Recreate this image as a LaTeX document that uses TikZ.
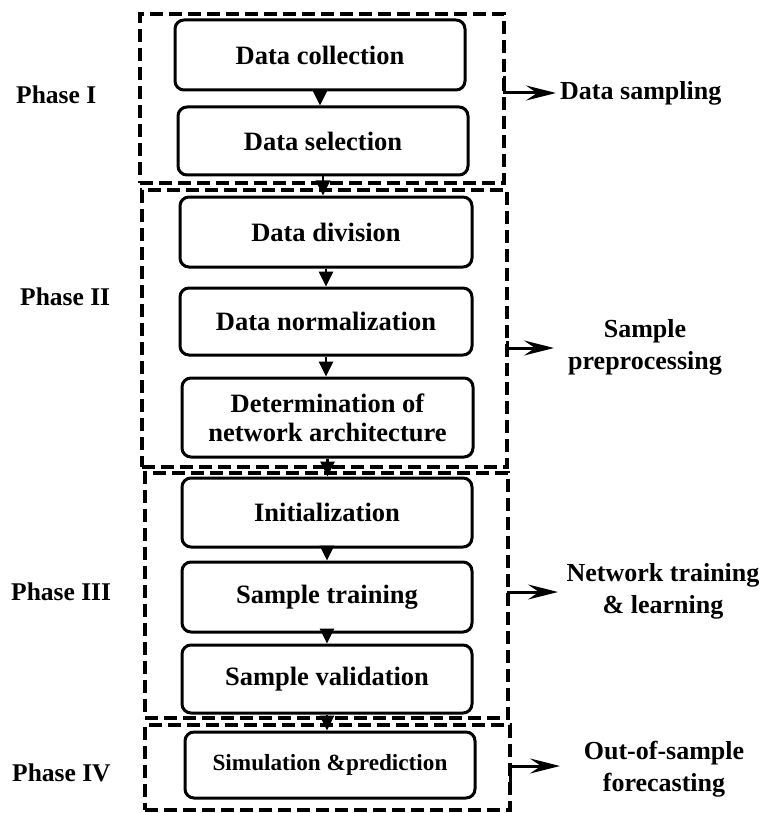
\documentclass[tikz,border=0pt]{standalone}
\usepackage{fontspec}
\setmainfont{Liberation Serif}
\usetikzlibrary{arrows.meta}

\tikzset{
  stepbox/.style={draw, line width=3pt, rounded corners=9pt, inner sep=0pt,
    minimum width=290pt, align=center, font=\fontsize{26.5}{29}\selectfont\bfseries},
  phasebox/.style={draw, dashed, dash pattern=on 13pt off 6pt, line width=3.2pt,
    inner sep=0pt},
  phaselabel/.style={anchor=west, inner sep=0pt, font=\fontsize{25.5}{28}\selectfont\bfseries},
  outlabel/.style={align=center, inner sep=0pt, font=\fontsize{26}{32}\selectfont\bfseries},
  flow/.style={line width=2.8pt, -{Triangle[width=14pt,length=15pt]}},
  outflow/.style={line width=3pt, -{Stealth[length=30pt,width=15pt,inset=11pt]}}
}

\begin{document}
\begin{tikzpicture}[x=1pt, y=-1pt]
  \useasboundingbox (0,0) rectangle (767,813);

  % dashed phase frames
  \node[phasebox, minimum width=364pt, minimum height=169pt] (pI)   at (322,98.5)  {};
  \node[phasebox, minimum width=365pt, minimum height=277pt] (pII)  at (324.5,328.5) {};
  \node[phasebox, minimum width=363pt, minimum height=245pt] (pIII) at (326.5,595.5) {};
  \node[phasebox, minimum width=365pt, minimum height=85pt]  (pIV)  at (327.5,767.5) {};

  % process steps
  \node[stepbox, minimum height=70pt] (s1) at (320,55)    {Data collection};
  \node[stepbox, minimum height=68pt] (s2) at (323,141)   {Data selection};
  \node[stepbox, minimum height=70pt, minimum width=292pt] (s3) at (326,232) {Data division};
  \node[stepbox, minimum height=67pt, minimum width=292pt] (s4) at (326,321.5) {Data normalization};
  \node[stepbox, minimum height=79pt, minimum width=291pt] (s5) at (327.5,417.5) {Determination of\\network architecture};
  \node[stepbox, minimum height=69pt] (s6) at (327,512.5) {Initialization};
  \node[stepbox, minimum height=70pt] (s7) at (327,597)   {Sample training};
  \node[stepbox, minimum height=68pt] (s8) at (327,679)   {Sample validation};
  \node[stepbox, minimum height=66pt, font=\fontsize{23.2}{27}\selectfont\bfseries] (s9) at (330,765) {Simulation \&prediction};

  % flow between steps
  \foreach \a/\b in {s1/s2, s2/s3, s3/s4, s4/s5, s5/s6, s6/s7, s7/s8, s8/s9}
    \draw[flow] (\a.south) -- (\a.south |- \b.north);

  % phase names
  \node[phaselabel] (lI)   at (16,95)  {Phase I};
  \node[phaselabel] (lII)  at (20,297) {Phase II};
  \node[phaselabel] (lIII) at (11,592) {Phase III};
  \node[phaselabel] (lIV)  at (12,773) {Phase IV};

  % phase outcomes
  \node[outlabel, anchor=west] (oI) at (560,93) {Data sampling};
  \node[outlabel] (oII)  at (645,347) {Sample\\preprocessing};
  \node[outlabel] (oIII) at (663,591) {Network training\\\& learning};
  \node[outlabel] (oIV)  at (664,769) {Out-of-sample\\forecasting};

  % elbow connectors from the frames
  \coordinate (eI)   at (504,76);
  \coordinate (eII)  at (507,341);
  \coordinate (eIII) at (508,601);
  \coordinate (eIV)  at (510,783);
  \coordinate (tI)   at (556,93);
  \coordinate (tII)  at (554,348);
  \coordinate (tIII) at (558,592);
  \coordinate (tIV)  at (560,766);
  \draw[outflow] (eI)   |- (tI);
  \draw[outflow] (eII)  |- (tII);
  \draw[outflow] (eIII) |- (tIII);
  \draw[outflow] (eIV)  |- (tIV);
\end{tikzpicture}
\end{document}
